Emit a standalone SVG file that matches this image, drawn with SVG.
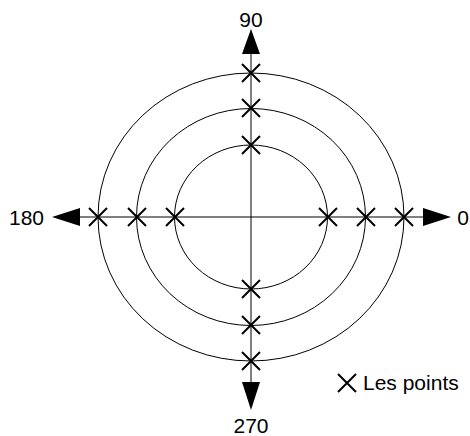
<svg xmlns="http://www.w3.org/2000/svg" width="470" height="436" viewBox="0 0 470 436">
<style>
.ring{fill:none;stroke:#000;stroke-width:1}
.axis{stroke:#000;stroke-width:1}
.mk{stroke:#000;stroke-width:2;fill:none}
.lbl{font-family:"Liberation Sans",Arial,sans-serif;font-size:21px;fill:#000}
</style>
<defs>
<path id="x" d="M-9,-9L9,9M-9,9L9,-9" class="mk"/>
</defs>
<rect width="470" height="436" fill="#fff"/>
<g id="rings">
<ellipse class="ring" cx="251" cy="217" rx="153" ry="144"/>
<ellipse class="ring" cx="251" cy="217" rx="114.5" ry="108.5"/>
<ellipse class="ring" cx="251" cy="217" rx="76.5" ry="72"/>
</g>
<g id="connectors">
<line class="axis" x1="251" y1="53" x2="251" y2="382"/>
<line class="axis" x1="80" y1="217" x2="423" y2="217"/>
<polygon points="251,29 242,54 260,54" fill="#000"/>
<polygon points="251,410 242,382 260,382" fill="#000"/>
<polygon points="52,217 80,208 80,226" fill="#000"/>
<polygon points="451,217 423,208 423,226" fill="#000"/>
</g>
<g id="points">
<use href="#x" x="251" y="73"/>
<use href="#x" x="251" y="108"/>
<use href="#x" x="251" y="145"/>
<use href="#x" x="251" y="289"/>
<use href="#x" x="251" y="325"/>
<use href="#x" x="251" y="361"/>
<use href="#x" x="98" y="217"/>
<use href="#x" x="137" y="217"/>
<use href="#x" x="175" y="217"/>
<use href="#x" x="328" y="217"/>
<use href="#x" x="366" y="217"/>
<use href="#x" x="404" y="217"/>
</g>
<g id="labels">
<text class="lbl" x="251" y="27" text-anchor="middle">90</text>
<text class="lbl" x="463" y="225" text-anchor="middle">0</text>
<text class="lbl" x="44" y="225" text-anchor="end">180</text>
<text class="lbl" x="251" y="433" text-anchor="middle">270</text>
</g>
<g id="legend">
<use href="#x" x="347" y="383"/>
<text class="lbl" x="363" y="390">Les points</text>
</g>
</svg>
